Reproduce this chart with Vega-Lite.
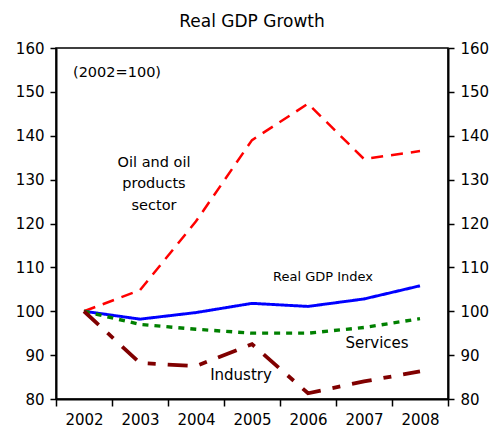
{
  "$schema": "https://vega.github.io/schema/vega-lite/v6.json",
  "autosize": "none",
  "width": 392,
  "height": 351,
  "padding": {"left": 56, "top": 48, "right": 47, "bottom": 36},
  "background": "white",
  "config": {
    "font": "DejaVu Sans",
    "view": {"stroke": "black", "strokeWidth": 1.5},
    "axis": {"grid": false, "domainColor": "black", "tickColor": "black", "labelColor": "black", "labelFont": "DejaVu Sans", "labelFontSize": 15, "tickSize": 6, "domainWidth": 2, "tickWidth": 1.5},
    "text": {"font": "DejaVu Sans", "fontSize": 15, "color": "black", "align": "center", "baseline": "middle"}
  },
  "title": {"text": "Real GDP Growth", "font": "DejaVu Sans", "fontSize": 17, "fontWeight": "normal", "color": "black", "offset": 10},
  "datasets": {
    "series": [
      {"year": "2002", "series": "Oil and oil products sector", "value": 100},
      {"year": "2003", "series": "Oil and oil products sector", "value": 104.8},
      {"year": "2004", "series": "Oil and oil products sector", "value": 120.5},
      {"year": "2005", "series": "Oil and oil products sector", "value": 139},
      {"year": "2006", "series": "Oil and oil products sector", "value": 147.3},
      {"year": "2007", "series": "Oil and oil products sector", "value": 134.7},
      {"year": "2008", "series": "Oil and oil products sector", "value": 136.5},
      {"year": "2002", "series": "Real GDP Index", "value": 100},
      {"year": "2003", "series": "Real GDP Index", "value": 98.2},
      {"year": "2004", "series": "Real GDP Index", "value": 99.7},
      {"year": "2005", "series": "Real GDP Index", "value": 101.8},
      {"year": "2006", "series": "Real GDP Index", "value": 101.1},
      {"year": "2007", "series": "Real GDP Index", "value": 102.8},
      {"year": "2008", "series": "Real GDP Index", "value": 105.8},
      {"year": "2002", "series": "Services", "value": 100},
      {"year": "2003", "series": "Services", "value": 97},
      {"year": "2004", "series": "Services", "value": 95.9},
      {"year": "2005", "series": "Services", "value": 95},
      {"year": "2006", "series": "Services", "value": 95},
      {"year": "2007", "series": "Services", "value": 96.3},
      {"year": "2008", "series": "Services", "value": 98.3},
      {"year": "2002", "series": "Industry", "value": 100},
      {"year": "2003", "series": "Industry", "value": 88.2},
      {"year": "2004", "series": "Industry", "value": 87.5},
      {"year": "2005", "series": "Industry", "value": 92.5},
      {"year": "2006", "series": "Industry", "value": 81.3},
      {"year": "2007", "series": "Industry", "value": 84},
      {"year": "2008", "series": "Industry", "value": 86.3}
    ]
  },
  "layer": [
    {
      "data": {"name": "series"},
      "mark": {"type": "line", "strokeCap": "butt", "strokeJoin": "miter"},
      "encoding": {
        "x": {"field": "year", "type": "ordinal", "title": null, "scale": {"paddingInner": 0, "paddingOuter": 0}, "axis": {"labelAngle": 0, "tickBand": "extent", "labelPadding": 6, "tickSize": 7}},
        "y": {"field": "value", "type": "quantitative", "title": null, "scale": {"domain": [80, 160], "nice": false, "zero": false}, "axis": {"values": [80, 90, 100, 110, 120, 130, 140, 150, 160], "orient": "left", "labelPadding": 6}},
        "color": {"field": "series", "type": "nominal", "legend": null, "scale": {"domain": ["Oil and oil products sector", "Real GDP Index", "Services", "Industry"], "range": ["#FF0000", "#0000FF", "#008000", "#800000"]}},
        "strokeDash": {"field": "series", "type": "nominal", "legend": null, "scale": {"domain": ["Oil and oil products sector", "Real GDP Index", "Services", "Industry"], "range": [[12, 8], [1, 0], [6, 6], [20, 12, 8, 12]]}},
        "strokeWidth": {"field": "series", "type": "nominal", "legend": null, "scale": {"domain": ["Oil and oil products sector", "Real GDP Index", "Services", "Industry"], "range": [2.5, 3.8, 3, 4.5]}}
      }
    },
    {
      "data": {"name": "series"},
      "mark": {"type": "line", "opacity": 0},
      "encoding": {
        "x": {"field": "year", "type": "ordinal"},
        "y": {"field": "value", "type": "quantitative", "title": null, "scale": {"domain": [80, 160], "nice": false, "zero": false}, "axis": {"values": [80, 90, 100, 110, 120, 130, 140, 150, 160], "orient": "right", "labelPadding": 6}},
        "detail": {"field": "series"}
      }
    },
    {
      "data": {"values": [{"year": "2002", "value": 154.2, "text": "(2002=100)"}]},
      "mark": {"type": "text", "dx": 33, "fontSize": 14.5},
      "encoding": {"x": {"field": "year", "type": "ordinal"}, "y": {"field": "value", "type": "quantitative", "axis": null}, "text": {"field": "text"}}
    },
    {
      "data": {"values": [
        {"year": "2003", "value": 133.7, "text": "Oil and oil"},
        {"year": "2003", "value": 128.9, "text": "products"},
        {"year": "2003", "value": 124.1, "text": "sector"}
      ]},
      "mark": {"type": "text", "dx": 14, "fontSize": 14.5},
      "encoding": {"x": {"field": "year", "type": "ordinal"}, "y": {"field": "value", "type": "quantitative", "axis": null}, "text": {"field": "text"}}
    },
    {
      "data": {"values": [{"year": "2006", "value": 107.7, "text": "Real GDP Index"}]},
      "mark": {"type": "text", "dx": 15, "fontSize": 13},
      "encoding": {"x": {"field": "year", "type": "ordinal"}, "y": {"field": "value", "type": "quantitative", "axis": null}, "text": {"field": "text"}}
    },
    {
      "data": {"values": [{"year": "2007", "value": 92.7, "text": "Services"}]},
      "mark": {"type": "text", "dx": 13},
      "encoding": {"x": {"field": "year", "type": "ordinal"}, "y": {"field": "value", "type": "quantitative", "axis": null}, "text": {"field": "text"}}
    },
    {
      "data": {"values": [{"year": "2005", "value": 85.4, "text": "Industry"}]},
      "mark": {"type": "text", "dx": -11},
      "encoding": {"x": {"field": "year", "type": "ordinal"}, "y": {"field": "value", "type": "quantitative", "axis": null}, "text": {"field": "text"}}
    }
  ],
  "resolve": {"axis": {"y": "independent"}}
}
